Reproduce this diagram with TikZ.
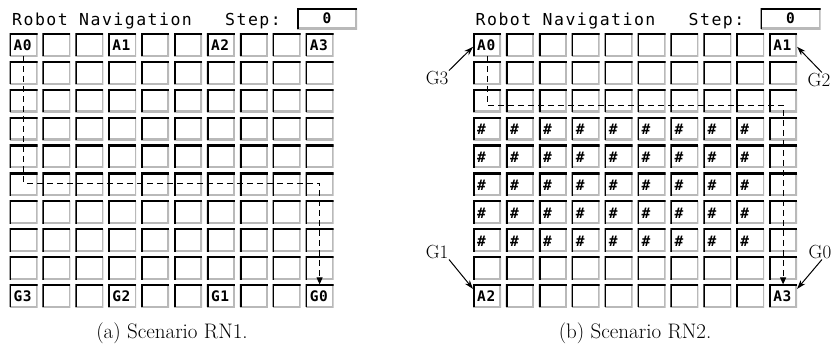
\documentclass[tikz,border=0pt]{standalone}
\usepackage{fontspec}
\setmonofont{DejaVu Sans Mono}
\newfontfamily\titlemono[LetterSpace=9]{DejaVu Sans Mono}
\newfontfamily\cellmono[LetterSpace=4]{DejaVu Sans Mono Bold}
\usetikzlibrary{arrows.meta,calc}
\tikzset{
  cellbox/.style={rectangle, minimum width=28pt, minimum height=23pt, inner sep=0pt, outer sep=0pt, fill=white,
    path picture={
      \draw[gray!55, line width=3.4pt] (path picture bounding box.north east) -- (path picture bounding box.south east) -- (path picture bounding box.south west);
      \draw[black, line width=3.4pt] (path picture bounding box.south west) -- (path picture bounding box.north west) -- (path picture bounding box.north east);
    }},
  stepbox/.style={cellbox, minimum width=60pt, minimum height=21pt, font=\cellmono\fontsize{14.5}{15}\selectfont, text height=10.5pt, text depth=0pt},
  celllabel/.style={anchor=base west, inner sep=0pt, font=\cellmono\fontsize{14.5}{15}\selectfont},
  titletext/.style={anchor=base west, inner sep=0pt, font=\titlemono\fontsize{16.5}{18}\selectfont},
  captext/.style={anchor=base, inner sep=0pt, font=\fontsize{21}{24}\selectfont\addfontfeatures{LetterSpace=3}},
  glabel/.style={inner sep=0.5pt, font=\fontsize{19}{21}\selectfont},
  pathline/.style={line width=1pt, dash pattern=on 6pt off 4pt, -{Triangle[length=7pt,width=6pt]}},
  garrow/.style={line width=1pt, -{Stealth[length=9pt,width=6pt]}}
}
\begin{document}
\begin{tikzpicture}[x=1pt,y=-1pt]
\useasboundingbox (0,0) rectangle (834,349);
\fill[white] (0,0) rectangle (834,349);

% ---------- Left panel (a) ----------
\node[titletext] (titleL) at (12,25) {Robot Navigation};
\node[titletext] (stepL) at (225,25) {Step:};
\node[stepbox] (boxL) at (327,18.5) {0};
\foreach \i in {0,...,9}{
  \foreach \j in {0,...,9}{
    \node[cellbox] (L-\i-\j) at ({23.5+32.9*\j},{44.8+27.9*\i}) {};
  }
}
\node[celllabel] (lA0) at ($(L-0-0.west)+(4,6)$) {A0};
\node[celllabel] (lA1) at ($(L-0-3.west)+(4,6)$) {A1};
\node[celllabel] (lA2) at ($(L-0-6.west)+(4,6)$) {A2};
\node[celllabel] (lA3) at ($(L-0-9.west)+(4,6)$) {A3};
\node[celllabel] (lG3) at ($(L-9-0.west)+(4,6)$) {G3};
\node[celllabel] (lG2) at ($(L-9-3.west)+(4,6)$) {G2};
\node[celllabel] (lG1) at ($(L-9-6.west)+(4,6)$) {G1};
\node[celllabel] (lG0) at ($(L-9-9.west)+(4,6)$) {G0};
\coordinate (Lbend) at (0,183);
\draw[pathline] (L-0-0.south) -- (L-0-0.south |- Lbend) -| (L-9-9.north);
\node[captext] (capL) at (172,338) {(a) Scenario RN1.};

% ---------- Right panel (b) ----------
\node[titletext] (titleR) at (475.5,25) {Robot Navigation};
\node[titletext] (stepR) at (688.5,25) {Step:};
\node[stepbox] (boxR) at (790.5,18.5) {0};
\foreach \i in {0,...,9}{
  \foreach \j in {0,...,9}{
    \node[cellbox] (R-\i-\j) at ({487+32.9*\j},{44.8+27.9*\i}) {};
  }
}
\foreach \i in {3,...,7}{
  \foreach \j in {0,...,8}{
    \node[celllabel] (h-\i-\j) at ($(R-\i-\j.west)+(4,6)$) {\#};
  }
}
\node[celllabel] (rA0) at ($(R-0-0.west)+(4,6)$) {A0};
\node[celllabel] (rA1) at ($(R-0-9.west)+(4,6)$) {A1};
\node[celllabel] (rA2) at ($(R-9-0.west)+(4,6)$) {A2};
\node[celllabel] (rA3) at ($(R-9-9.west)+(4,6)$) {A3};
\coordinate (Rbend) at (0,105);
\draw[pathline] (R-0-0.south) -- (R-0-0.south |- Rbend) -| (R-9-9.north);

\node[glabel, anchor=east] (G3) at (449,78) {G3};
\node[glabel, anchor=west] (G2) at (807,80) {G2};
\node[glabel, anchor=east] (G1) at (449,252) {G1};
\node[glabel, anchor=west] (G0) at (808,252) {G0};
\draw[garrow] (G3.north east) -- ([yshift=-2pt]R-0-0.west);
\draw[garrow] ([xshift=3pt]G2.north) -- ([yshift=-2pt]R-0-9.east);
\draw[garrow] (G1.south east) -- ([yshift=7pt]R-9-0.west);
\draw[garrow] ([xshift=2pt]G0.south) -- ([yshift=7pt]R-9-9.east);
\node[captext] (capR) at (635,338) {(b) Scenario RN2.};
\end{tikzpicture}
\end{document}
